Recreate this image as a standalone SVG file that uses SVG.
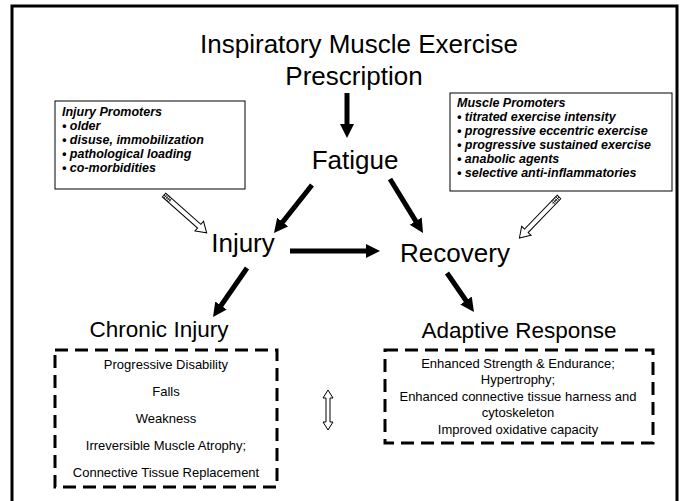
<svg xmlns="http://www.w3.org/2000/svg" width="686" height="501" viewBox="0 0 686 501">
<style>
text{font-family:"Liberation Sans",Arial,sans-serif;fill:#000}
.big{font-size:26px}
.mid{font-size:22.5px}
.prom{font-size:12.5px;font-weight:bold;font-style:italic}
.small{font-size:13px}
.conn{stroke:#000;stroke-width:5;fill:none;marker-end:url(#ah)}
.dash{fill:none;stroke:#000;stroke-width:3;stroke-dasharray:13 7}
.box{fill:#fff;stroke:#000;stroke-width:1}
.hollow{fill:#fff;stroke:#000;stroke-width:1}
</style>
<defs>
<marker id="ah" markerUnits="userSpaceOnUse" markerWidth="16" markerHeight="16" refX="3" refY="7" orient="auto">
<path d="M0,0 L14,7 L0,14 Z" fill="#000"/>
</marker>
<g id="pencil">
<path class="hollow" d="M0,-2.5 H47 V-6.5 L57,0 L47,6.5 V2.5 H0 Z"/>
<path d="M2,-2.5 V2.5 M4,-2.5 V2.5 M6,-2.5 V2.5 M8,-2.5 V2.5 M0,0 H9" stroke="#000" stroke-width="0.8"/>
</g>
</defs>
<path d="M12,501 V6 H677 V501" fill="none" stroke="#000" stroke-width="3"/>

<g id="title">
<text class="big" x="359" y="53" text-anchor="middle">Inspiratory Muscle Exercise</text>
<text class="big" x="354" y="85" text-anchor="middle" font-size="27">Prescription</text>
</g>
<g id="fatigue"><text class="big" x="355" y="169" text-anchor="middle">Fatigue</text></g>
<g id="injury"><text class="big" x="243" y="252" text-anchor="middle">Injury</text></g>
<g id="recovery"><text class="big" x="455" y="262" text-anchor="middle">Recovery</text></g>
<g id="chronic-injury"><text class="mid" x="159" y="337" text-anchor="middle">Chronic Injury</text></g>
<g id="adaptive-response"><text class="mid" x="519" y="338" text-anchor="middle">Adaptive Response</text></g>

<g id="injury-promoters">
<rect class="box" x="55" y="101" width="190" height="88"/>
<text class="prom" x="62" y="116">Injury Promoters</text>
<text class="prom" x="62" y="130">•  older</text>
<text class="prom" x="62" y="144">•  disuse, immobilization</text>
<text class="prom" x="62" y="158">•  pathological loading</text>
<text class="prom" x="62" y="172">•  co-morbidities</text>
</g>

<g id="muscle-promoters">
<rect class="box" x="450" y="93" width="222" height="98"/>
<text class="prom" x="457" y="107">Muscle Promoters</text>
<text class="prom" x="457" y="121">•  titrated exercise intensity</text>
<text class="prom" x="457" y="135">•  progressive eccentric exercise</text>
<text class="prom" x="457" y="149">•  progressive sustained exercise</text>
<text class="prom" x="457" y="163">•  anabolic agents</text>
<text class="prom" x="457" y="177">•  selective anti-inflammatories</text>
</g>

<g id="chronic-box">
<rect class="dash" x="55" y="350" width="222" height="137"/>
<text class="small" x="166" y="369" text-anchor="middle">Progressive Disability</text>
<text class="small" x="166" y="396" text-anchor="middle">Falls</text>
<text class="small" x="166" y="423" text-anchor="middle">Weakness</text>
<text class="small" x="166" y="450" text-anchor="middle">Irreversible Muscle Atrophy;</text>
<text class="small" x="166" y="477" text-anchor="middle">Connective Tissue Replacement</text>
</g>

<g id="adaptive-box">
<rect class="dash" x="385" y="350" width="268" height="93"/>
<text class="small" x="518" y="368" text-anchor="middle">Enhanced Strength &amp; Endurance;</text>
<text class="small" x="518" y="384" text-anchor="middle">Hypertrophy;</text>
<text class="small" x="518" y="401" text-anchor="middle">Enhanced connective tissue harness and</text>
<text class="small" x="518" y="417" text-anchor="middle">cytoskeleton</text>
<text class="small" x="518" y="434" text-anchor="middle">Improved oxidative capacity</text>
</g>

<g id="connectors">
<line class="conn" x1="347" y1="93" x2="347" y2="127"/>
<line class="conn" x1="312" y1="185" x2="280.8" y2="224.4"/>
<line class="conn" x1="390" y1="179" x2="417.3" y2="223.6"/>
<line class="conn" x1="290" y1="251" x2="369" y2="251"/>
<line class="conn" x1="247" y1="268" x2="219.3" y2="308"/>
<line class="conn" x1="447" y1="273" x2="467.7" y2="303"/>
<use href="#pencil" transform="translate(164,195) rotate(41.5)"/>
<use href="#pencil" transform="translate(559,197) rotate(134)"/>
<path class="hollow" d="M328,390 L333,398 L330,398 L330,422 L333,422 L328,430 L323,422 L326,422 L326,398 L323,398 Z"/>
</g>
</svg>
